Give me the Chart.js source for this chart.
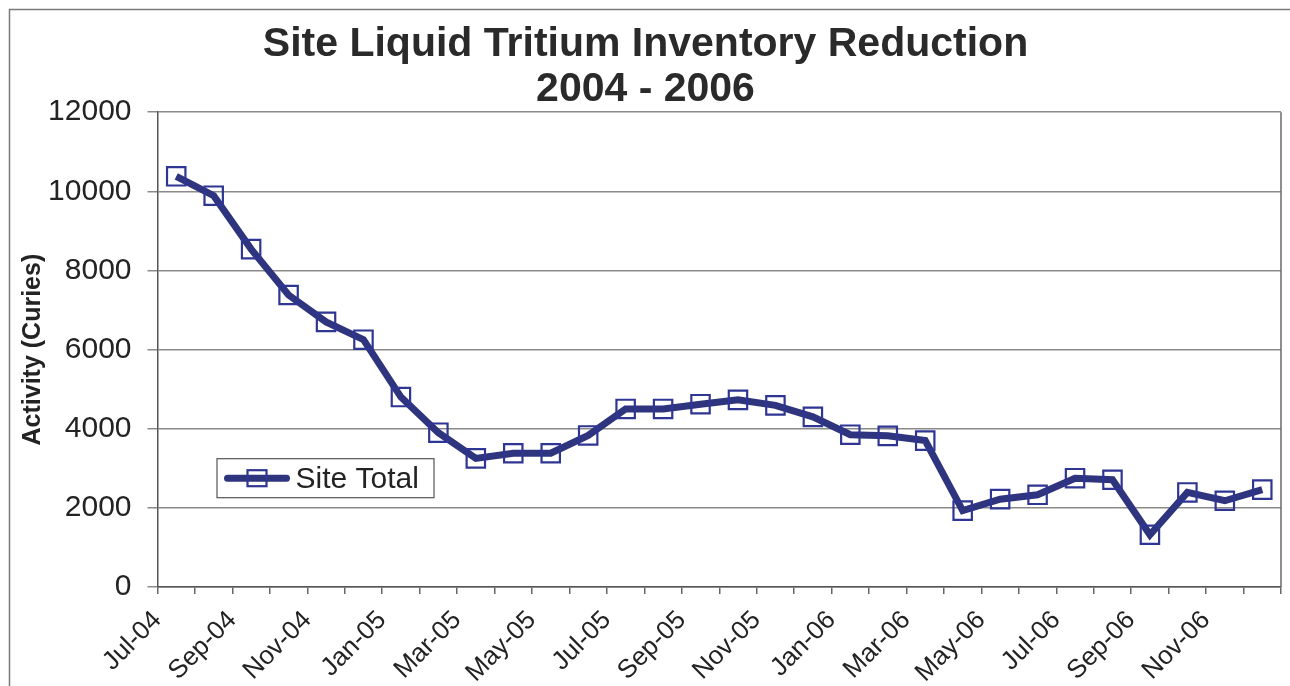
<!DOCTYPE html>
<html>
<head>
<meta charset="utf-8">
<script src="https://cdn.jsdelivr.net/npm/chart.js@4/dist/chart.umd.min.js"></script>
<style>
  html, body { margin: 0; padding: 0; background: #ffffff; }
  #wrap { position: relative; width: 1290px; height: 686px; }
  canvas { display: block; }
</style>
</head>
<body>
<div id="wrap"><canvas id="c" width="1290" height="686"></canvas></div>
<script>
// ---- data ----
const months = ['Jul-04','Aug-04','Sep-04','Oct-04','Nov-04','Dec-04',
                'Jan-05','Feb-05','Mar-05','Apr-05','May-05','Jun-05',
                'Jul-05','Aug-05','Sep-05','Oct-05','Nov-05','Dec-05',
                'Jan-06','Feb-06','Mar-06','Apr-06','May-06','Jun-06',
                'Jul-06','Aug-06','Sep-06','Oct-06','Nov-06','Dec-06'];
const siteTotal = [10380, 9890, 8540, 7380, 6700, 6250,
                   4800, 3900, 3250, 3380, 3380, 3830,
                   4500, 4500, 4620, 4730, 4590, 4300,
                   3850, 3820, 3700, 1930, 2220, 2330,
                   2750, 2710, 1320, 2390, 2180, 2460];
const yTicks = [0, 2000, 4000, 6000, 8000, 10000, 12000];
const seriesName = 'Site Total';
const titleLines = ['Site Liquid Tritium Inventory Reduction', '2004 - 2006'];
const yTitle = 'Activity (Curies)';

const FONT = "'Liberation Sans', Arial, Helvetica, sans-serif";
const LINE_COLOR = '#2f347f';
const MARK_COLOR = '#2e3592';
const TEXT = '#232323';

const points = siteTotal.map((v, i) => ({ x: i + 0.5, y: v }));

const framePlugin = {
  id: 'frame',
  beforeDraw(chart) {
    const ctx = chart.ctx;
    ctx.save();
    ctx.fillStyle = '#ffffff';
    ctx.fillRect(0, 0, chart.width, chart.height);
    ctx.strokeStyle = '#7a7a7a';
    ctx.lineWidth = 1.5;
    ctx.beginPath();
    ctx.moveTo(9.5, chart.height);
    ctx.lineTo(9.5, 9.5);
    ctx.lineTo(chart.width, 9.5);
    ctx.stroke();
    ctx.restore();
  },
  beforeDatasetsDraw(chart) {
    const a = chart.chartArea;
    const ctx = chart.ctx;
    ctx.save();
    ctx.strokeStyle = '#6a6a6a';
    ctx.lineWidth = 1.5;
    ctx.beginPath();
    ctx.moveTo(a.right, a.top);
    ctx.lineTo(a.right, a.bottom);
    ctx.stroke();
    ctx.restore();
  }
};

const legendPlugin = {
  id: 'boxLegend',
  afterDatasetsDraw(chart) {
    const a = chart.chartArea;
    const ctx = chart.ctx;
    const ds = chart.data.datasets[0];
    const bx = a.left + 59, by = a.top + 346, bw = 217, bh = 39;
    ctx.save();
    ctx.fillStyle = '#ffffff';
    ctx.fillRect(bx, by, bw, bh);
    ctx.strokeStyle = '#555555';
    ctx.lineWidth = 1.2;
    ctx.strokeRect(bx + 0.5, by + 0.5, bw, bh);
    const cy = by + 20;
    ctx.strokeStyle = ds.borderColor;
    ctx.lineWidth = 7;
    ctx.lineCap = 'round';
    ctx.beginPath();
    ctx.moveTo(bx + 11, cy);
    ctx.lineTo(bx + 70, cy);
    ctx.stroke();
    ctx.lineWidth = 2.2;
    ctx.strokeStyle = ds.pointBorderColor;
    ctx.strokeRect(bx + 31, cy - 8, 19, 16);
    ctx.fillStyle = TEXT;
    ctx.font = '30px ' + FONT;
    ctx.textBaseline = 'alphabetic';
    ctx.textAlign = 'left';
    ctx.fillText(ds.label, bx + 79, cy + 10);
    ctx.restore();
  }
};

new Chart(document.getElementById('c'), {
  type: 'line',
  data: {
    datasets: [{
      label: seriesName,
      data: points,
      borderColor: LINE_COLOR,
      borderWidth: 7,
      tension: 0,
      fill: false,
      pointStyle: 'rect',
      pointRadius: 13,
      pointBorderWidth: 2.2,
      pointBorderColor: MARK_COLOR,
      pointBackgroundColor: 'rgba(0,0,0,0)'
    }]
  },
  options: {
    responsive: false,
    animation: false,
    events: [],
    layout: { autoPadding: false, padding: { left: 10, right: 9, top: 0, bottom: 0 } },
    plugins: {
      legend: { display: false },
      tooltip: { enabled: false },
      title: {
        display: true,
        text: titleLines,
        color: '#2a2a2a',
        font: { family: FONT, size: 41, weight: 'bold', lineHeight: 1.1 },
        padding: { top: 22, bottom: 0 }
      }
    },
    scales: {
      x: {
        type: 'linear',
        min: 0,
        max: months.length,
        afterFit(scale) {
          scale.height = 99;
          scale.paddingLeft = 0;
          scale.paddingRight = 0;
        },
        afterBuildTicks(scale) {
          scale.ticks = months.map((m, i) => ({ value: i })).concat([{ value: months.length }]);
        },
        ticks: {
          autoSkip: false,
          maxRotation: 45,
          minRotation: 45,
          padding: 11,
          color: TEXT,
          font: { family: FONT, size: 26 },
          callback(v) { return (v % 2 === 0 && v < months.length) ? months[v] : ''; }
        },
        grid: { drawOnChartArea: false, color: '#666666', lineWidth: 1.5, tickLength: 7 },
        border: { display: true, color: '#555555', width: 1.5 }
      },
      y: {
        min: 0,
        max: 12000,
        afterFit(scale) { scale.width = 147.5; },
        afterBuildTicks(scale) { scale.ticks = yTicks.map(v => ({ value: v })); },
        ticks: {
          padding: 16,
          color: TEXT,
          font: { family: FONT, size: 30 },
          callback(v) { return String(v); }
        },
        grid: { color: '#8a8a8a', lineWidth: 1.5, tickLength: 10 },
        border: { display: true, color: '#555555', width: 1.5 },
        title: {
          display: true,
          text: yTitle,
          color: TEXT,
          font: { family: FONT, size: 25, weight: 'bold', lineHeight: 1.2 },
          padding: { top: 8, bottom: 0 }
        }
      }
    }
  },
  plugins: [framePlugin, legendPlugin]
});
</script>
</body>
</html>
